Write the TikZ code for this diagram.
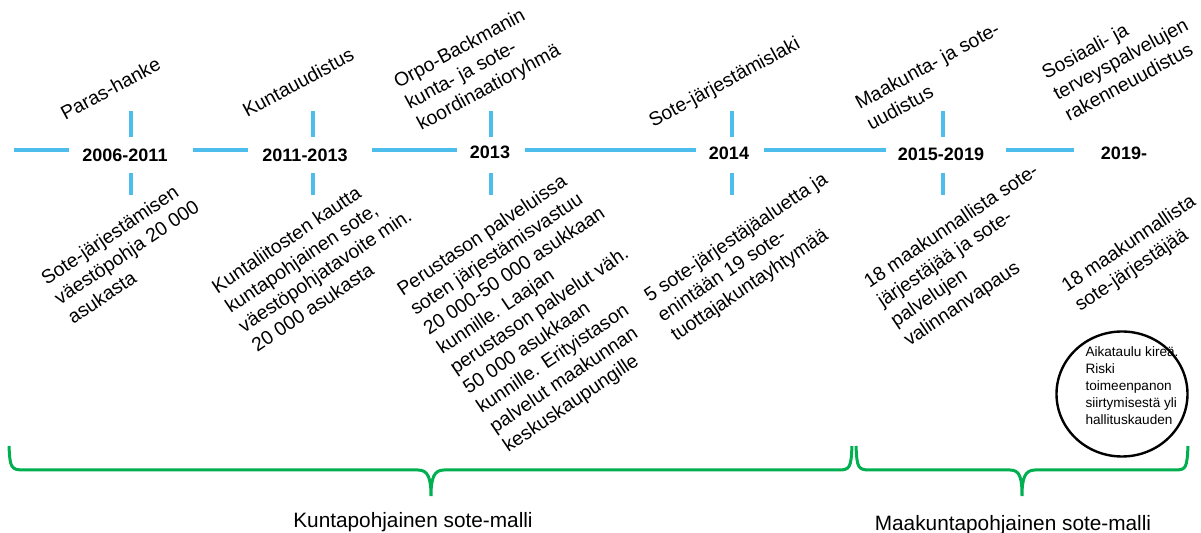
\documentclass[tikz,border=0pt]{standalone}
\usepackage{fontspec}
\setmainfont{Liberation Sans}
\usepackage{tikz}
\usepackage{xcolor}
\definecolor{timeblue}{RGB}{77,190,235}
\definecolor{bracegreen}{RGB}{0,176,80}

\begin{document}
\begin{tikzpicture}[x=0.5pt,y=-0.5pt,
    tline/.style={timeblue,line width=2pt},
    yearlbl/.style={font=\fontsize{9}{11}\selectfont\bfseries},
    evtop/.style={rotate=28.5,anchor=base west,inner sep=0pt,align=left,font=\fontsize{9.7}{12}\selectfont},
    evbot/.style={rotate=34,anchor=base west,inner sep=0pt,align=left,font=\fontsize{9.7}{11.8}\selectfont},
    modelbrace/.style={bracegreen,line width=1.5pt},
    modellbl/.style={font=\fontsize{10.4}{12}\selectfont}]
  \useasboundingbox (0,0) rectangle (1201,533);

  % timeline
  \foreach \a/\b in {14/69,193/248,372/457,525/696,764/886,1006/1074}
    \draw[tline] (\a,150) -- (\b,150);
  \foreach \x in {131,313,491,732,943} {
    \draw[tline] (\x,111) -- (\x,137);
    \draw[tline] (\x,173) -- (\x,195);
  }
  \node[yearlbl] (y1) at (125,155) {2006-2011};
  \node[yearlbl] (y2) at (305,155) {2011-2013};
  \node[yearlbl] (y3) at (490,152) {2013};
  \node[yearlbl] (y4) at (729,153) {2014};
  \node[yearlbl] (y5) at (941,154) {2015-2019};
  \node[yearlbl] (y6) at (1124,153) {2019-};

  % hankkeet (base = last line)
  \node[evtop] (paras) at (65,121) {Paras-hanke};
  \node[evtop] (kunta) at (247,118) {Kuntauudistus};
  \node[evtop] (orpo) at (421,131) {Orpo-Backmanin\\kunta- ja sote-\\koordinaatioryhmä};
  \node[evtop] (solaki) at (653,128) {Sote-järjestämislaki};
  \node[evtop] (maak) at (871,131) {Maakunta- ja sote-\\uudistus};
  \node[evtop] (sosi) at (1069,122) {Sosiaali- ja\\terveyspalvelujen\\rakenneuudistus};

  % sisallot
  \node[evbot] (pohja) at (73,325) {Sote-järjestämisen\\väestöpohja 20 000\\asukasta};
  \node[evbot] (liitos) at (257,353) {Kuntaliitosten kautta\\kuntapohjainen sote,\\väestöpohjatavoite min.\\20 000 asukasta};
  \node[evbot] (perus) at (508,453) {Perustason palveluissa\\soten järjestämisvastuu\\20 000-50 000 asukkaan\\kunnille. Laajan\\perustason palvelut väh.\\50 000 asukkaan\\kunnille. Erityistason\\palvelut maakunnan\\keskuskaupungille};
  \node[evbot] (alueet) at (676,342) {5 sote-järjestäjäaluetta ja\\enintään 19 sote-\\tuottajakuntayhtymää};
  \node[evbot] (maak18) at (909,347) {18 maakunnallista sote-\\järjestäjää ja sote-\\palvelujen\\valinnanvapaus};
  \node[evbot] (jarj18) at (1080,312) {18 maakunnallista\\sote-järjestäjää};

  % riski
  \draw[line width=1.2pt] (1122,394) ellipse [x radius=65.5, y radius=62.5];
  \node[align=left,inner sep=0pt,font=\fontsize{6.8}{8.5}\selectfont] (risk) at (1132,386)
    {Aikataulu kireä.\\Riski\\toimeenpanon\\siirtymisestä yli\\hallituskauden};

  % mallit
  \draw[modelbrace] (9,446) .. controls (10,468) and (11,470) .. (24,470) -- (418,470)
    .. controls (428,470) and (431,478) .. (431,496) .. controls (431,478) and (434,470) .. (444,470)
    -- (838,470) .. controls (850,470) and (851,468) .. (852,446);
  \draw[modelbrace] (856,446) .. controls (857,468) and (858,470) .. (870,470) -- (1010,470)
    .. controls (1020,470) and (1022,478) .. (1022,496) .. controls (1022,478) and (1025,470) .. (1035,470)
    -- (1175,470) .. controls (1186,470) and (1187,468) .. (1188,446);
  \node[modellbl] (kmalli) at (413,522) {Kuntapohjainen sote-malli};
  \node[modellbl] (mmalli) at (1013,525) {Maakuntapohjainen sote-malli};
%  \node at (600,20) {Sote-uudistuksen vaiheet};
\end{tikzpicture}
\end{document}
